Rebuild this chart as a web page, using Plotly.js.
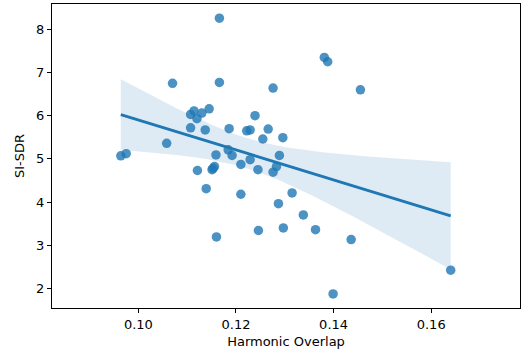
<!DOCTYPE html>
<html>
<head>
<meta charset="utf-8">
<script src="https://cdn.plot.ly/plotly-3.0.1.min.js"></script>
<style>html,body{margin:0;padding:0;background:#fff;}#chart{width:522px;height:352px;}</style>
</head>
<body>
<div id="chart"></div>
<script>
// Harmonic Overlap (x) vs SI-SDR (y)
const harmonicOverlap = [
  0.0964, 0.0975, 0.1070, 0.1058, 0.1166, 0.1166, 0.1107, 0.1114, 0.1120, 0.1130,
  0.1145, 0.1107, 0.1137, 0.1186, 0.1239, 0.1222, 0.1229, 0.1159, 0.1184, 0.1192,
  0.1121, 0.1156, 0.1151, 0.1153, 0.1210, 0.1229, 0.1245, 0.1381, 0.1388, 0.1276,
  0.1455, 0.1266, 0.1255, 0.1296, 0.1289, 0.1283, 0.1276, 0.1139, 0.1210, 0.1315,
  0.1287, 0.1338, 0.1246, 0.1297, 0.1363, 0.1160, 0.1436, 0.1640, 0.1399
];
const siSdr = [
  5.07, 5.12, 6.75, 5.36, 8.26, 6.77, 6.03, 6.11, 5.93, 6.06,
  6.16, 5.72, 5.67, 5.70, 6.00, 5.65, 5.67, 5.09, 5.21, 5.08,
  4.73, 4.82, 4.75, 4.78, 4.87, 4.98, 4.75, 7.35, 7.25, 6.64,
  6.60, 5.69, 5.46, 5.49, 5.08, 4.82, 4.69, 4.31, 4.18, 4.21,
  3.96, 3.70, 3.34, 3.40, 3.36, 3.19, 3.13, 2.42, 1.87
];
const xTickVals = [0.10, 0.12, 0.14, 0.16];
const xTickText = ["0.10", "0.12", "0.14", "0.16"];
const yTickVals = [2, 3, 4, 5, 6, 7, 8];
const yTickText = ["2", "3", "4", "5", "6", "7", "8"];

// OLS fit with 95% confidence band for the mean
const n = harmonicOverlap.length;
const mx = harmonicOverlap.reduce((a, b) => a + b, 0) / n;
const my = siSdr.reduce((a, b) => a + b, 0) / n;
let sxx = 0, sxy = 0;
for (let i = 0; i < n; i++) {
  sxx += (harmonicOverlap[i] - mx) ** 2;
  sxy += (harmonicOverlap[i] - mx) * (siSdr[i] - my);
}
const slope = sxy / sxx;
const intercept = my - slope * mx;
let sse = 0;
for (let i = 0; i < n; i++) sse += (siSdr[i] - (intercept + slope * harmonicOverlap[i])) ** 2;
const s = Math.sqrt(sse / (n - 2));
const tcrit = 2.012;
const xmin = Math.min(...harmonicOverlap), xmax = Math.max(...harmonicOverlap);
const gx = [], gy = [], gu = [], gl = [];
for (let k = 0; k <= 100; k++) {
  const x = xmin + (xmax - xmin) * k / 100;
  const yhat = intercept + slope * x;
  const se = s * Math.sqrt(1 / n + (x - mx) ** 2 / sxx);
  gx.push(x); gy.push(yhat); gu.push(yhat + tcrit * se); gl.push(yhat - tcrit * se);
}

const blue = "#1f77b4";
const traces = [
  {x: harmonicOverlap, y: siSdr, mode: "markers", type: "scatter",
   marker: {color: blue, opacity: 0.8, size: 9.5, line: {width: 0}}, hoverinfo: "skip"},
  {x: gx, y: gl, mode: "lines", line: {width: 0}, hoverinfo: "skip"},
  {x: gx, y: gu, mode: "lines", line: {width: 0}, fill: "tonexty",
   fillcolor: "rgba(31,119,180,0.15)", hoverinfo: "skip"},
  {x: gx, y: gy, mode: "lines", line: {color: blue, width: 2.8}, hoverinfo: "skip"}
];

const axisCommon = {
  showgrid: false, zeroline: false, showline: true, mirror: true,
  linecolor: "#000", linewidth: 1, ticks: "outside", ticklen: 4, tickwidth: 1,
  tickcolor: "#000", tickfont: {family: "DejaVu Sans", size: 13, color: "#000"}
};

const layout = {
  width: 522, height: 352,
  margin: {l: 52, r: 2, t: 4, b: 44},
  paper_bgcolor: "#fff", plot_bgcolor: "#fff",
  showlegend: false,
  xaxis: Object.assign({}, axisCommon, {
    range: [0.0823, 0.1782], tickvals: xTickVals, ticktext: xTickText,
    title: {text: "Harmonic Overlap", font: {family: "DejaVu Sans", size: 13, color: "#000"}, standoff: 6}
  }),
  yaxis: Object.assign({}, axisCommon, {
    range: [1.544, 8.588], tickvals: yTickVals, ticktext: yTickText,
    title: {text: "SI-SDR", font: {family: "DejaVu Sans", size: 13, color: "#000"}, standoff: 8}
  })
};

Plotly.newPlot("chart", traces, layout, {staticPlot: true, displayModeBar: false});
</script>
</body>
</html>
